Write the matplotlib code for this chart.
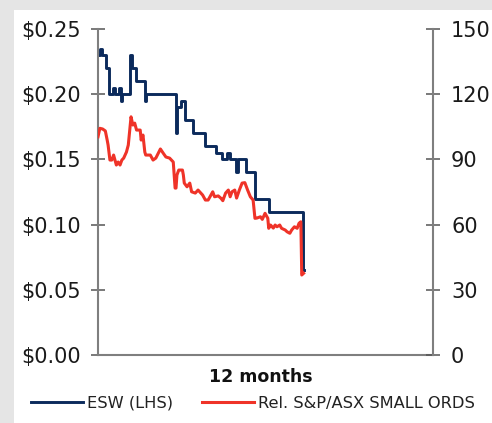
import matplotlib
matplotlib.use("Agg")
import matplotlib.pyplot as plt
from matplotlib.patches import Rectangle
from matplotlib.ticker import FuncFormatter

# ESW share price (LHS), day of change -> close
esw_days = [0, 2, 4, 9, 12, 16, 19, 23, 25, 26, 35, 37, 41, 51, 52, 85, 86, 90,
            95, 104, 117, 129, 135, 141, 144, 150, 153, 161, 171, 186, 223, 224]
esw_price = [0.23, 0.235, 0.23, 0.22, 0.20, 0.205, 0.20, 0.205, 0.195, 0.20,
             0.23, 0.22, 0.21, 0.195, 0.20, 0.17, 0.19, 0.195, 0.18, 0.17,
             0.16, 0.155, 0.15, 0.155, 0.15, 0.14, 0.15, 0.14, 0.12, 0.11,
             0.065, 0.065]

# relative to S&P/ASX Small Ords (RHS)
rel_days = [0, 2, 5, 8, 10, 11, 13, 15, 17, 20, 22, 24, 26, 28, 31, 33, 36, 38,
            40, 42, 46, 47, 49, 51, 52, 57, 60, 63, 68, 71, 74, 78, 82, 84, 85,
            86, 88, 92, 93, 94, 97, 100, 102, 106, 109, 114, 117, 120, 122, 125,
            127, 131, 134, 136, 139, 142, 144, 146, 149, 151, 154, 157, 160, 163,
            166, 169, 171, 173, 177, 179, 182, 185, 186, 188, 191, 193, 195, 198,
            200, 204, 206, 209, 211, 214, 217, 219, 221, 222, 224]
rel_value = [100.4, 104.3, 104.0, 103.1, 98.9, 96.6, 89.7, 89.7, 92.0, 87.4,
             88.8, 87.4, 89.7, 90.6, 93.4, 96.6, 109.6, 105.8, 106.7, 103.5,
             103.5, 98.9, 101.2, 93.4, 92.0, 92.0, 89.7, 90.6, 94.8, 92.9, 91.1,
             90.6, 88.8, 76.8, 76.8, 82.8, 85.1, 85.1, 82.8, 79.1, 77.4, 79.1,
             75.1, 74.5, 75.9, 73.6, 71.3, 71.3, 72.8, 75.1, 72.8, 73.2, 72.1,
             71.0, 74.5, 75.9, 72.8, 75.1, 75.9, 72.2, 75.9, 79.1, 79.3, 75.9,
             72.8, 71.3, 62.9, 63.0, 63.6, 62.4, 65.2, 62.9, 58.3, 59.8, 58.4,
             59.8, 59.0, 59.8, 58.3, 57.5, 56.7, 56.0, 57.5, 59.0, 58.3, 60.6,
             61.3, 36.8, 37.6]

left_ticks = [0.0, 0.05, 0.10, 0.15, 0.20, 0.25]
right_ticks = [0, 30, 60, 90, 120, 150]

navy = "#0b2a5c"
red = "#ef3328"
grey = "#7f7f7f"

fig = plt.figure(figsize=(4.92, 4.23), dpi=100, facecolor="#e5e5e5")
# white panel inside the grey border
fig.patches.append(Rectangle((14 / 492, 0), 1, 1 - 10 / 423, transform=fig.transFigure,
                             facecolor="white", edgecolor="none", zorder=-1))

ax = fig.add_axes([98 / 492, 1 - 355 / 423, 335 / 492, 326 / 423])
ax.set_facecolor("none")
ax2 = ax.twinx()

ax.plot(esw_days, esw_price, color=navy, lw=2.1, drawstyle="steps-post",
        solid_joinstyle="round", label="ESW (LHS)")
ax2.plot(rel_days, rel_value, color=red, lw=2.2, solid_joinstyle="round",
         label="Rel. S&P/ASX SMALL ORDS")

ax.set_xlim(0, 365)
ax.set_ylim(0, 0.25)
ax2.set_ylim(0, 150)
ax.set_yticks(left_ticks)
ax2.set_yticks(right_ticks)
ax.yaxis.set_major_formatter(FuncFormatter(lambda v, p: f"${v:.2f}"))
ax.set_xticks([])

for a in (ax, ax2):
    for s in a.spines.values():
        s.set_color(grey)
        s.set_linewidth(1.5)
    a.spines["top"].set_visible(False)
ax2.spines["left"].set_visible(False)
ax2.spines["bottom"].set_visible(False)
ax.spines["right"].set_visible(False)

ax.tick_params(axis="y", direction="inout", length=10, width=1.1, color="#555555",
               labelsize=15, pad=7.5, labelcolor="#1a1a1a")
ax2.tick_params(axis="y", direction="inout", length=10, width=1.1, color="#555555",
                labelsize=15, pad=8, labelcolor="#1a1a1a")

fig.text(261 / 492, 1 - 377 / 423, "12 months", ha="center", va="center",
         fontsize=12.5, fontweight="bold", color="#111111")

h1, l1 = ax.get_legend_handles_labels()
h2, l2 = ax2.get_legend_handles_labels()
fig.legend(h1 + h2, l1 + l2, loc="center", bbox_to_anchor=(253 / 492, 1 - 403 / 423),
           ncol=2, frameon=False, fontsize=11.7, handlelength=3.2,
           handletextpad=0.25, columnspacing=1.8, borderpad=0, labelcolor="#222222")

fig.savefig("out.png", dpi=100, facecolor=fig.get_facecolor())
